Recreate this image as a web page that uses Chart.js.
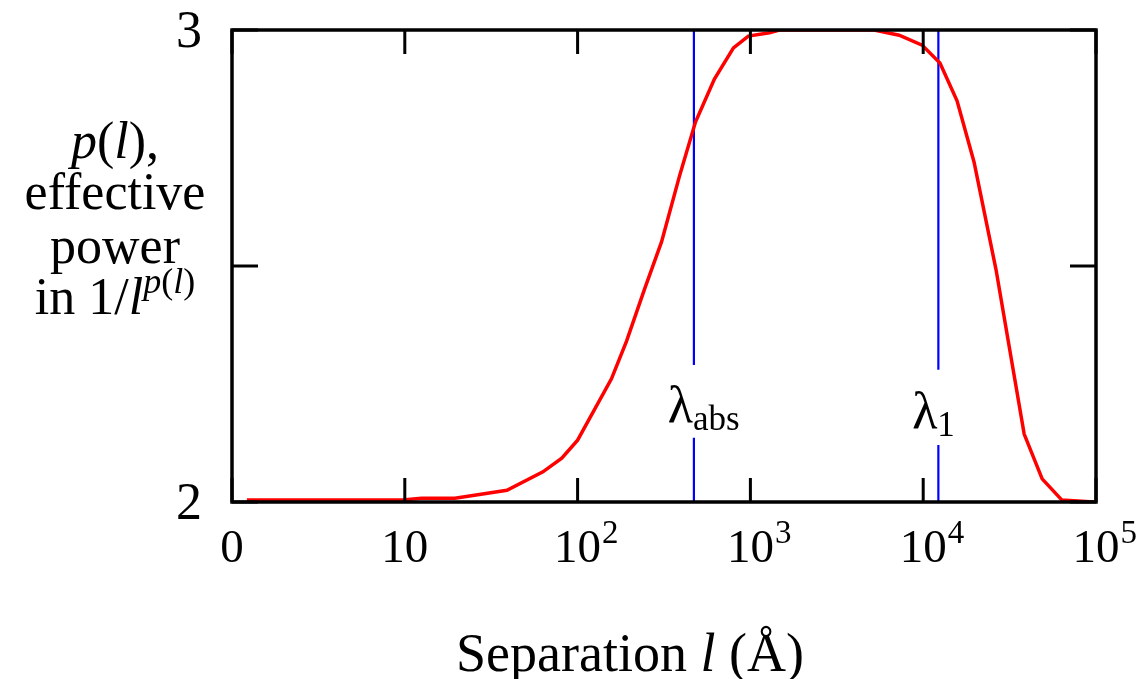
<!DOCTYPE html>
<html>
<head>
<meta charset="utf-8">
<script src="https://cdn.jsdelivr.net/npm/chart.js@4.4.0/dist/chart.umd.min.js"></script>
<style>
  html, body { margin: 0; padding: 0; background: #fff; }
  #wrap { width: 1136px; height: 679px; position: relative; }
</style>
</head>
<body>
<div id="wrap"><canvas id="chart"></canvas></div>
<script>
// separation l (log axis) and effective power p(l)
const sepValues   = [1.22, 9.7, 12.5, 19.5, 39, 63, 81, 100, 157, 192, 244, 306, 389, 481, 619, 798, 973, 1290, 1470, 5200, 7260, 9860, 12500, 15700, 19700, 26400, 38400, 48800, 63500, 97000];
const powerValues = [2.004, 2.004, 2.008, 2.008, 2.025, 2.064, 2.093, 2.131, 2.261, 2.341, 2.451, 2.551, 2.691, 2.805, 2.896, 2.962, 2.987, 2.994, 3.0, 3.0, 2.989, 2.968, 2.93, 2.85, 2.72, 2.492, 2.144, 2.049, 2.004, 2.0];

// vertical marker lines (lambda_abs, lambda_1), broken where the label sits
const markerSubs      = ["abs", "1"];
const markerSep       = [471, 12240];
const markerGapTop    = [2.29, 2.28];
const markerGapBottom = [2.136, 2.121];

// axis ticks
const xTickValues = [1, 10, 100, 1000, 10000, 100000];
const xTickBase   = ["0", "10", "10", "10", "10", "10"];
const xTickExp    = ["", "", "2", "3", "4", "5"];
const yTickValues = [2, 2.5, 3];
const yTickLabels = ["2", "", "3"];

const SERIF = '"Liberation Serif", "Times New Roman", serif';
const f = (size, italic) => (italic ? "italic " : "") + size + "px " + SERIF;

const markerSets = markerSep.map((x, i) => ({
    data: [
        { x: x, y: 3 },
        { x: x, y: markerGapTop[i] },
        { x: x, y: null },
        { x: x, y: markerGapBottom[i] },
        { x: x, y: 2 },
    ],
    borderColor: "#0000ff",
    borderWidth: 2.2,
    pointRadius: 0,
    spanGaps: false,
}));

// draw a row of differently styled text runs
function drawRuns(ctx, runs, x, y, align) {
    let total = 0;
    runs.forEach(r => { ctx.font = r.font; r.w = ctx.measureText(r.t).width; total += r.w; });
    let cx = align === "center" ? x - total / 2 : align === "right" ? x - total : x;
    ctx.textAlign = "left";
    runs.forEach(r => {
        ctx.font = r.font;
        ctx.fillText(r.t, cx, y - (r.rise || 0));
        cx += r.w;
    });
}

const decorations = {
    id: "decorations",
    afterDatasetsDraw(chart) {
        const { ctx, chartArea: a, scales: { x, y } } = chart;
        ctx.save();
        ctx.fillStyle = "#000";
        ctx.strokeStyle = "#000";

        // inward ticks on all four sides
        ctx.lineWidth = 3;
        ctx.beginPath();
        xTickValues.forEach(v => {
            const px = x.getPixelForValue(v);
            ctx.moveTo(px, a.bottom); ctx.lineTo(px, a.bottom - 24);
            ctx.moveTo(px, a.top);    ctx.lineTo(px, a.top + 24);
        });
        yTickValues.forEach(v => {
            const py = y.getPixelForValue(v);
            ctx.moveTo(a.left, py);  ctx.lineTo(a.left + 26, py);
            ctx.moveTo(a.right, py); ctx.lineTo(a.right - 26, py);
        });
        ctx.stroke();

        // frame
        ctx.lineWidth = 3.5;
        ctx.strokeRect(a.left, a.top, a.right - a.left, a.bottom - a.top);

        // x tick labels
        ctx.textBaseline = "alphabetic";
        xTickValues.forEach((v, i) => {
            const px = x.getPixelForValue(v);
            ctx.font = f(47);
            const bw = ctx.measureText(xTickBase[i]).width;
            ctx.textAlign = "left";
            ctx.fillText(xTickBase[i], px - bw / 2, a.bottom + 60);
            if (xTickExp[i]) {
                ctx.font = f(33);
                ctx.fillText(xTickExp[i], px + bw / 2 + 1, a.bottom + 41);
            }
        });

        // y tick labels
        ctx.font = f(52);
        ctx.textAlign = "right";
        ctx.textBaseline = "middle";
        yTickValues.forEach((v, i) => {
            if (yTickLabels[i]) ctx.fillText(yTickLabels[i], a.left - 30, y.getPixelForValue(v) + 3);
        });

        // marker labels
        ctx.textBaseline = "alphabetic";
        markerSep.forEach((v, i) => {
            const px = x.getPixelForValue(v);
            const mid = (y.getPixelForValue(markerGapTop[i]) + y.getPixelForValue(markerGapBottom[i])) / 2;
            ctx.font = f(52);
            ctx.textAlign = "right";
            ctx.fillText("λ", px - 1, mid + 21);
            ctx.font = f(35);
            ctx.textAlign = "left";
            ctx.fillText(markerSubs[i], px - 1, mid + 29);
        });

        // y title, stacked lines
        const tx = 115;
        drawRuns(ctx, [
            { t: "p", font: f(52, true) }, { t: "(", font: f(52) },
            { t: "l", font: f(52, true) }, { t: "),", font: f(52) },
        ], tx, 158, "center");
        drawRuns(ctx, [{ t: "effective", font: f(52) }], tx, 209, "center");
        drawRuns(ctx, [{ t: "power", font: f(52) }], tx, 263, "center");
        drawRuns(ctx, [
            { t: "in 1/", font: f(52) }, { t: "l", font: f(52, true) },
            { t: "p", font: f(36, true), rise: 21 }, { t: "(", font: f(36), rise: 21 },
            { t: "l", font: f(36, true), rise: 21 }, { t: ")", font: f(36), rise: 21 },
        ], tx, 314, "center");

        // x title
        drawRuns(ctx, [
            { t: "Separation ", font: f(54) }, { t: "l", font: f(54, true) },
            { t: " (Å)", font: f(54) },
        ], 630, 671, "center");

        ctx.restore();
    },
};

new Chart(document.getElementById("chart"), {
    type: "line",
    data: {
        datasets: [
            {
                data: sepValues.map((s, i) => ({ x: s, y: powerValues[i] })),
                borderColor: "#ff0000",
                borderWidth: 3.5,
                pointRadius: 0,
                tension: 0,
            },
            ...markerSets,
        ],
    },
    options: {
        responsive: true,
        maintainAspectRatio: false,
        animation: false,
        events: [],
        layout: { padding: { left: 232, right: 40, top: 30, bottom: 177 } },
        plugins: { legend: { display: false }, tooltip: { enabled: false } },
        scales: {
            x: { type: "logarithmic", min: 1, max: 100000, display: false },
            y: { type: "linear", min: 2, max: 3, display: false },
        },
    },
    plugins: [decorations],
});
</script>
</body>
</html>
